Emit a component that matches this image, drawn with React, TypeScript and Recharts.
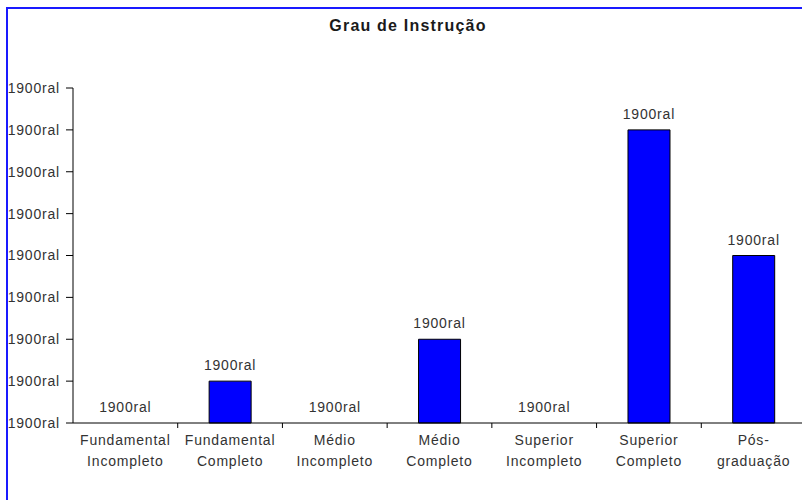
import { Bar, ComposedChart, LabelList, Line, XAxis, YAxis } from "recharts";

const categories = [
  "Fundamental Incompleto",
  "Fundamental Completo",
  "Médio Incompleto",
  "Médio Completo",
  "Superior Incompleto",
  "Superior Completo",
  "Pós-graduação",
];
const tickLines = [
  ["Fundamental", "Incompleto"],
  ["Fundamental", "Completo"],
  ["Médio", "Incompleto"],
  ["Médio", "Completo"],
  ["Superior", "Incompleto"],
  ["Superior", "Completo"],
  ["Pós-", "graduação"],
];
const values = [0, 1, 0, 2, 0, 7, 4];
const yTicks = [0, 1, 2, 3, 4, 5, 6, 7, 8];
const valueText = "1900ral";

const data = categories.map((c, i) => ({ name: c, value: values[i] }));

const FONT = "'Liberation Sans', Arial, sans-serif";
const TEXT = "#333";
const PLOT_LEFT = 73;
const CHART_W = 806;
const BAND = (CHART_W - PLOT_LEFT) / categories.length;

function XTick(props: any) {
  const { x, y, index } = props;
  const lines = tickLines[index] || [];
  return (
    <g>
      {index < categories.length - 1 && (
        <line x1={x + BAND / 2} x2={x + BAND / 2} y1={y - 5} y2={y} stroke="#000" />
      )}
      {lines.map((l, i) => (
        <text
          key={i}
          x={x}
          y={y + 17 + i * 21}
          textAnchor="middle"
          fontFamily={FONT}
          fontSize={14}
          letterSpacing={0.8}
          fill={TEXT}
        >
          {l}
        </text>
      ))}
    </g>
  );
}

export default function App() {
  return (
    <div
      style={{
        position: "fixed",
        left: 0,
        top: 0,
        width: 802,
        height: 500,
        overflow: "hidden",
        background: "#fff",
      }}
    >
      <div
        style={{
          position: "absolute",
          left: 6,
          top: 7,
          width: 900,
          height: 600,
          borderLeft: "2px solid #1a1aff",
          borderTop: "2px solid #1a1aff",
        }}
      />
      <div
        style={{
          position: "absolute",
          left: 0,
          width: 816,
          top: 17,
          textAlign: "center",
          fontFamily: FONT,
          fontWeight: "bold",
          fontSize: 16,
          letterSpacing: 1.2,
          color: "#1a1a1a",
        }}
      >
        Grau de Instrução
      </div>
      <div style={{ position: "absolute", left: 0, top: 0 }}>
        <ComposedChart
          width={CHART_W}
          height={500}
          data={data}
          barCategoryGap="30%"
          margin={{ top: 88, right: 0, left: 8, bottom: 17 }}
        >
          <XAxis
            dataKey="name"
            height={60}
            interval={0}
            tickLine={false}
            tickSize={5}
            tickMargin={0}
            axisLine={{ stroke: "#000" }}
            tick={<XTick />}
          />
          <YAxis
            width={65}
            domain={[0, 8]}
            ticks={yTicks}
            interval={0}
            tickSize={7}
            tickMargin={6}
            axisLine={{ stroke: "#000" }}
            tickLine={{ stroke: "#000" }}
            tickFormatter={() => valueText}
            tick={{ fontFamily: FONT, fontSize: 14, letterSpacing: 0.8, fill: TEXT }}
          />
          <Bar dataKey="value" fill="#0000ff" stroke="#000" strokeWidth={1} isAnimationActive={false} />
          <Line
            dataKey="value"
            stroke="none"
            dot={false}
            activeDot={false}
            legendType="none"
            isAnimationActive={false}
          >
            <LabelList
              dataKey="value"
              position="top"
              offset={11}
              formatter={() => valueText}
              style={{ fontFamily: FONT, fontSize: 14, letterSpacing: 0.8, fill: TEXT }}
            />
          </Line>
        </ComposedChart>
      </div>
    </div>
  );
}
